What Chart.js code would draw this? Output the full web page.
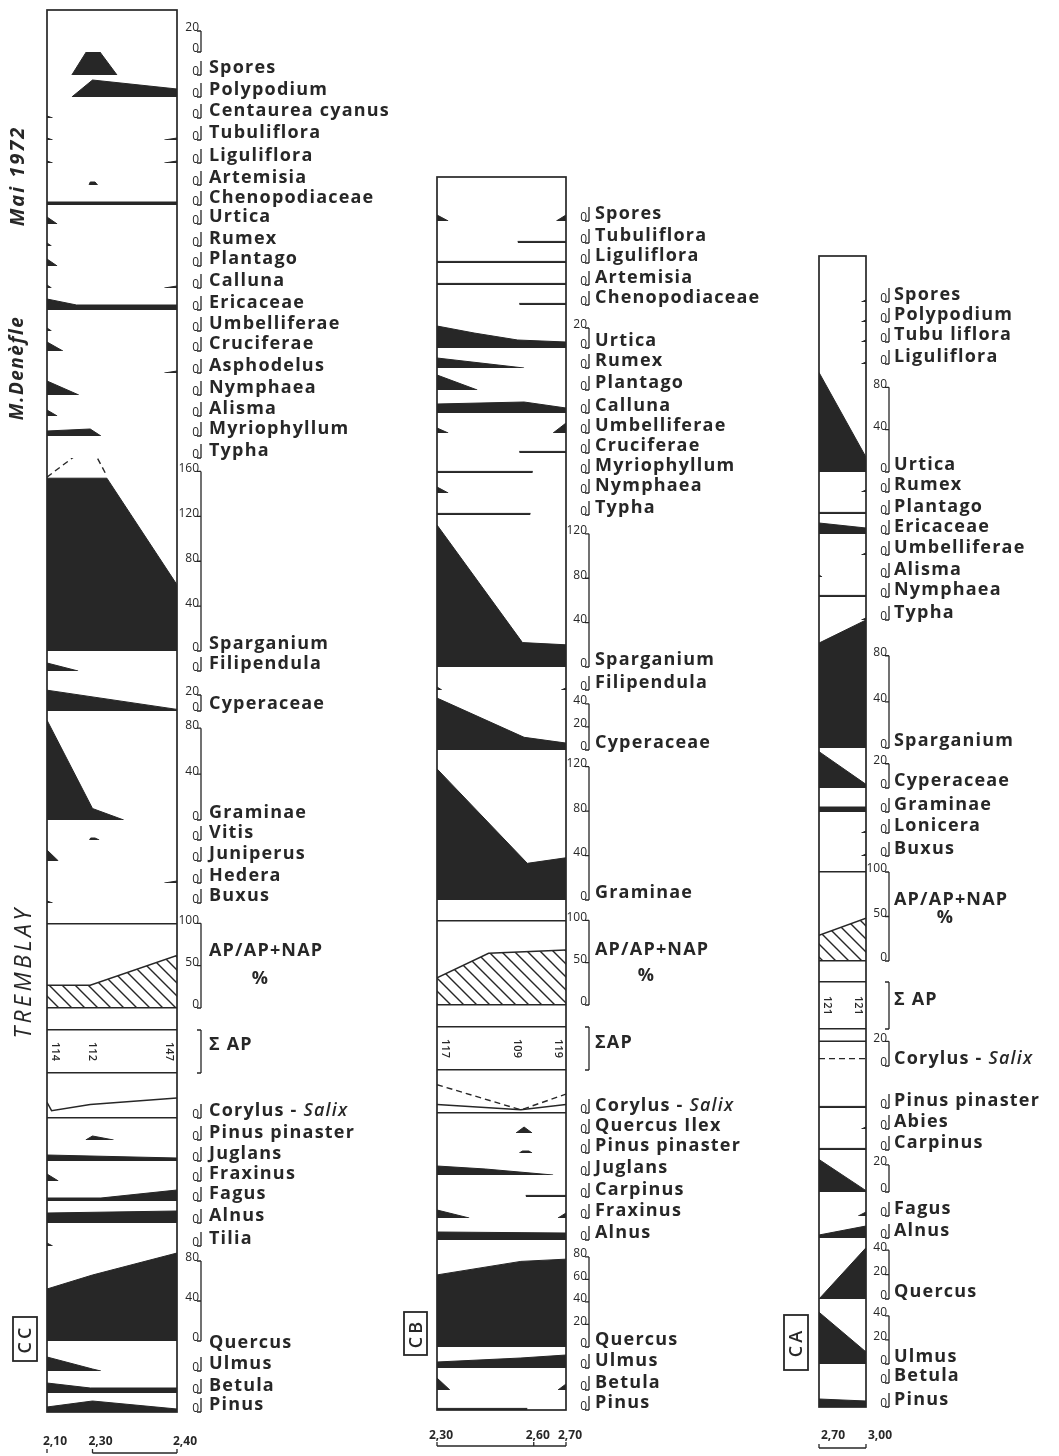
<!DOCTYPE html>
<html>
<head>
<meta charset="utf-8">
<script src="https://cdn.jsdelivr.net/npm/chart.js@4/dist/chart.umd.min.js"></script>
<style>
  html, body { margin: 0; background: #fff; }
  body { position: relative; width: 1059px; height: 1456px; overflow: hidden; }
  canvas { position: absolute; top: 0; }
</style>
</head>
<body>
<canvas id="ccChart" width="400" height="1456" style="left:0px"></canvas>
<canvas id="cbChart" width="400" height="1456" style="left:395px"></canvas>
<canvas id="caChart" width="287" height="1456" style="left:772px"></canvas>
<script>
const INK = '#272727';
const FONT = '"Open Sans", "DejaVu Sans", sans-serif';

// ---------- Profil CC (Tremblay) ----------
const ccDepthTicks = [2.10, 2.30, 2.40];
const ccTaxa = ['', 'Spores', 'Polypodium', 'Centaurea cyanus', 'Tubuliflora', 'Liguliflora', 'Artemisia',
  'Chenopodiaceae', 'Urtica', 'Rumex', 'Plantago', 'Calluna', 'Ericaceae', 'Umbelliferae', 'Cruciferae',
  'Asphodelus', 'Nymphaea', 'Alisma', 'Myriophyllum', 'Typha', 'Sparganium', 'Filipendula', 'Cyperaceae',
  'Graminae', 'Vitis', 'Juniperus', 'Hedera', 'Buxus', 'AP/AP+NAP', 'Σ AP', 'Corylus-Salix', 'Pinus pinaster',
  'Juglans', 'Fraxinus', 'Fagus', 'Alnus', 'Tilia', 'Quercus', 'Ulmus', 'Betula', 'Pinus'];
// valeurs en % : [profondeur, valeur]
const ccValues = [
  null,
  [[2.209, 0], [2.30, 33], [2.329, 0]],
  [[2.209, 0], [2.30, 17], [2.40, 8]],
  [[2.10, 2], [2.125, 0]],
  [[2.10, 2], [2.125, 0], [2.385, 0], [2.40, 2]],
  [[2.10, 2], [2.125, 0], [2.385, 0], [2.40, 2]],
  [[2.285, 0], [2.29, 3], [2.303, 3], [2.306, 0]],
  [[2.10, 3], [2.40, 3]],
  [[2.10, 7], [2.145, 0]],
  [[2.10, 3], [2.12, 0]],
  [[2.10, 7], [2.145, 0]],
  [[2.10, 3], [2.12, 0], [2.385, 0], [2.40, 2]],
  [[2.10, 11], [2.23, 5], [2.40, 5]],
  [[2.10, 3], [2.12, 0]],
  [[2.10, 9], [2.17, 0]],
  [[2.385, 0], [2.40, 2]],
  [[2.10, 14], [2.24, 0]],
  [[2.10, 6], [2.145, 0]],
  [[2.10, 5], [2.29, 7], [2.31, 0]],
  null,
  [[2.10, 154], [2.317, 154], [2.40, 59]],
  [[2.10, 8], [2.237, 0]],
  [[2.10, 26], [2.40, 2]],
  [[2.10, 87], [2.30, 10], [2.337, 0]],
  [[2.287, 0], [2.292, 2], [2.303, 2], [2.308, 0]],
  [[2.10, 11], [2.15, 0]],
  [[2.385, 0], [2.40, 2]],
  [[2.10, 2], [2.125, 0]],
  [[2.10, 27], [2.29, 27], [2.40, 62]],
  null,
  [[2.10, 15], [2.12, 7], [2.29, 13], [2.40, 19]],
  [[2.27, 0], [2.30, 4], [2.325, 0]],
  [[2.10, 6], [2.40, 3]],
  [[2.10, 7], [2.15, 0]],
  [[2.10, 3], [2.31, 3], [2.40, 11]],
  [[2.10, 10], [2.40, 12]],
  [[2.10, 3], [2.125, 0]],
  [[2.10, 52], [2.30, 66], [2.40, 88]],
  [[2.10, 14], [2.30, 2], [2.31, 0]],
  [[2.10, 10], [2.29, 5], [2.40, 5]],
  [[2.10, 5], [2.30, 11], [2.40, 3]]
];
const ccDashed = { 'Sparganium': [[2.10, 155], [2.29, 184], [2.317, 156]] };
const ccScaleTicks = { '': [0, 20], 'Sparganium': [0, 40, 80, 120, 160], 'Cyperaceae': [0, 20],
  'Graminae': [0, 40, 80], 'AP/AP+NAP': [0, 50, 100], 'Σ AP': [], 'Quercus': [0, 40, 80] };
const ccSumAP = [114, 112, 147];
const ccSumAPDepth = [2.10, 2.30, 2.40];

// ---------- Profil CB ----------
const cbDepthTicks = [2.30, 2.60, 2.70];
const cbTaxa = ['Spores', 'Tubuliflora', 'Liguliflora', 'Artemisia', 'Chenopodiaceae', 'Urtica', 'Rumex',
  'Plantago', 'Calluna', 'Umbelliferae', 'Cruciferae', 'Myriophyllum', 'Nymphaea', 'Typha', 'Sparganium',
  'Filipendula', 'Cyperaceae', 'Graminae', 'AP/AP+NAP', 'ΣAP', 'Corylus-Salix', 'Quercus Ilex',
  'Pinus pinaster', 'Juglans', 'Carpinus', 'Fraxinus', 'Alnus', 'Quercus', 'Ulmus', 'Betula', 'Pinus'];
const cbValues = [
  [[2.30, 6], [2.335, 0], [2.67, 0], [2.70, 6]],
  [[2.55, 1.6], [2.70, 1.6]],
  [[2.30, 1.6], [2.70, 1.6]],
  [[2.30, 1.6], [2.70, 1.6]],
  [[2.555, 1.6], [2.70, 1.6]],
  [[2.30, 22], [2.415, 15], [2.55, 8], [2.70, 6]],
  [[2.30, 10], [2.57, 0]],
  [[2.30, 15], [2.425, 0]],
  [[2.30, 9], [2.57, 11], [2.70, 5]],
  [[2.30, 5], [2.335, 0], [2.66, 0], [2.70, 10]],
  [[2.555, 1.6], [2.70, 1.6]],
  [[2.30, 1.6], [2.597, 1.6]],
  [[2.30, 6], [2.335, 0]],
  [[2.30, 1.6], [2.59, 1.6]],
  [[2.30, 128], [2.565, 22], [2.70, 20]],
  [[2.30, 3], [2.315, 0], [2.685, 0], [2.70, 2]],
  [[2.30, 45], [2.57, 11], [2.70, 6]],
  [[2.30, 118], [2.58, 33], [2.70, 38]],
  [[2.30, 32], [2.46, 61], [2.70, 65]],
  null,
  [[2.30, 8], [2.56, 3], [2.70, 8]],
  [[2.545, 0], [2.57, 6], [2.595, 0]],
  [[2.555, 0], [2.565, 2], [2.585, 2], [2.595, 0]],
  [[2.30, 9], [2.45, 6], [2.66, 0]],
  [[2.575, 1.6], [2.70, 1.6]],
  [[2.30, 8], [2.40, 0], [2.675, 0], [2.70, 5]],
  [[2.30, 8], [2.70, 7]],
  [[2.30, 64], [2.56, 76], [2.70, 78]],
  [[2.30, 6], [2.56, 10], [2.70, 13]],
  [[2.30, 12], [2.34, 0], [2.675, 0], [2.70, 6]],
  [[2.30, 1.6], [2.58, 1.6]]
];
const cbDashed = { 'Corylus-Salix': [[2.30, 27], [2.56, 3], [2.70, 18]] };
const cbScaleTicks = { 'Urtica': [0, 20], 'Sparganium': [0, 40, 80, 120], 'Cyperaceae': [0, 20, 40],
  'Graminae': [0, 40, 80, 120], 'AP/AP+NAP': [0, 50, 100], 'ΣAP': [], 'Quercus': [0, 20, 40, 60, 80] };
const cbSumAP = [117, 109, 119];
const cbSumAPDepth = [2.30, 2.55, 2.70];

// ---------- Profil CA ----------
const caDepthTicks = [2.70, 3.00];
const caTaxa = ['Spores', 'Polypodium', 'Tubu liflora', 'Liguliflora', 'Urtica', 'Rumex', 'Plantago',
  'Ericaceae', 'Umbelliferae', 'Alisma', 'Nymphaea', 'Typha', 'Sparganium', 'Cyperaceae', 'Graminae',
  'Lonicera', 'Buxus', 'AP/AP+NAP', 'Σ AP', 'Corylus-Salix', 'Pinus pinaster', 'Abies', 'Carpinus', '',
  'Fagus', 'Alnus', 'Quercus', 'Ulmus', 'Betula', 'Pinus'];
const caValues = [
  [[2.97, 0], [3.00, 2]],
  [[2.97, 0], [3.00, 2]],
  [[2.97, 0], [3.00, 2]],
  [[2.97, 0], [3.00, 2]],
  [[2.70, 94], [3.00, 14]],
  [[2.97, 0], [3.00, 2]],
  [[2.70, 1.6], [3.00, 1.6]],
  [[2.70, 11], [3.00, 6]],
  [[2.97, 0], [3.00, 2]],
  [[2.70, 2], [2.72, 0]],
  [[2.70, 1.6], [3.00, 1.6]],
  [[2.97, 0], [3.00, 2]],
  [[2.70, 91], [3.00, 111]],
  [[2.70, 30], [3.00, 3]],
  [[2.70, 5], [3.00, 5]],
  [[2.97, 0], [3.00, 2]],
  [[2.97, 0], [3.00, 2]],
  [[2.70, 29], [3.00, 48]],
  null,
  [[2.70, 20], [3.00, 20]],
  [[2.70, 1.6], [3.00, 1.6]],
  [[2.97, 0], [3.00, 2]],
  [[2.70, 1.6], [3.00, 1.6]],
  [[2.70, 24], [3.00, 1]],
  [[2.95, 0], [3.00, 4]],
  [[2.70, 3], [3.00, 12]],
  [[2.70, 0], [3.00, 42]],
  [[2.70, 43], [3.00, 10]],
  null,
  [[2.70, 8], [3.00, 6]]
];
const caDashed = { 'Corylus-Salix': [[2.70, 6], [3.00, 6]] };
const caScaleTicks = { 'Urtica': [0, 40, 80], 'Sparganium': [0, 40, 80], 'Cyperaceae': [0, 20],
  'AP/AP+NAP': [0, 50, 100], 'Σ AP': [], 'Corylus-Salix': [0, 20], '': [0, 20],
  'Quercus': [0, 20, 40], 'Ulmus': [0, 20, 40] };
const caSumAP = [121, 121];
const caSumAPDepth = [2.70, 3.00];

// echelle de profondeur (pas forcément linéaire sur le dessin original)
class DepthScale extends Chart.LinearScale {
  getPixelForValue(value) {
    const b = this.options.breaks;
    let i = 0;
    while (i < b.length - 2 && value > b[i + 1][0]) i++;
    const f = b[i][1] + (value - b[i][0]) / (b[i + 1][0] - b[i][0]) * (b[i + 1][1] - b[i][1]);
    return this.left + f * this.width;
  }
}
DepthScale.id = 'depth';
DepthScale.defaults = Chart.LinearScale.defaults;
Chart.register(DepthScale);

function hatchPattern() {
  const c = document.createElement('canvas');
  c.width = 13; c.height = 13;
  const g = c.getContext('2d');
  g.strokeStyle = INK; g.lineWidth = 1.4;
  g.beginPath();
  g.moveTo(-2, -2); g.lineTo(15, 15);
  g.moveTo(-2, 11); g.lineTo(2, 15);
  g.moveTo(11, -2); g.lineTo(15, 2);
  g.stroke();
  return g.createPattern(c, 'repeat');
}
const HATCH = hatchPattern();

function isSumAP(name) { return name.replace(' ', '') === 'ΣAP'; }

function makeDecor(col) {
  return {
    id: 'decor',
    afterDraw(chart) {
      const { ctx, chartArea: a, scales } = chart;
      const xs = scales.x;
      ctx.save();
      ctx.strokeStyle = INK;
      ctx.fillStyle = INK;
      ctx.lineWidth = 1.7;
      ctx.strokeRect(a.left, a.top, a.width, a.height);

      const bx = a.right + col.axisW + 2;
      const nx = bx + col.nameGap;
      col.taxa.forEach((name, i) => {
        const s = scales['r' + i];
        const labels = col.scaleTicks[name] || [0];
        const marks = labels.concat(col.rules[name] || []);
        const top = Math.max(0, ...marks);
        const y0 = s.getPixelForValue(0);
        const y1 = top > 0 ? s.getPixelForValue(top) : y0 - 14;
        // petite échelle en crochet
        ctx.lineWidth = 1.3;
        ctx.beginPath();
        ctx.moveTo(bx, y0);
        ctx.lineTo(bx, y1);
        marks.forEach(v => {
          const y = s.getPixelForValue(v);
          ctx.moveTo(bx - 4, y);
          ctx.lineTo(bx, y);
        });
        ctx.stroke();
        if (!name) return;
        const yName = col.nameAt[name] !== undefined ? s.getPixelForValue(col.nameAt[name]) : y0 - 7;
        ctx.font = '700 18px ' + FONT;
        ctx.letterSpacing = '1.2px';
        ctx.textBaseline = 'middle';
        ctx.textAlign = 'left';
        if (name === 'Corylus-Salix') {
          ctx.fillText('Corylus - ', nx, yName);
          const w = ctx.measureText('Corylus - ').width;
          ctx.font = 'italic 600 18px ' + FONT;
          ctx.fillText('Salix', nx + w, yName);
        } else if (name === 'AP/AP+NAP') {
          ctx.fillText(name, nx, yName);
          const w = ctx.measureText(name).width;
          ctx.textAlign = 'center';
          ctx.fillText('%', nx + w * 0.45, yName + col.pctGap);
        } else {
          ctx.fillText(name, nx, yName);
        }
      });

      // nombres Σ AP
      const si = col.taxa.findIndex(isSumAP);
      const sa = scales['r' + si];
      const yMid = sa.getPixelForValue(col.rules[col.taxa[si]][1] / 2);
      ctx.font = '600 11px ' + FONT;
      ctx.letterSpacing = '0px';
      col.sumAP.forEach((n, k) => {
        const x = Math.min(Math.max(xs.getPixelForValue(col.sumAPDepth[k]), a.left + 8), a.right - 8);
        ctx.save();
        ctx.translate(x, yMid);
        ctx.rotate(Math.PI / 2);
        ctx.textAlign = 'center';
        ctx.textBaseline = 'middle';
        ctx.fillText(String(n), 0, 0);
        ctx.restore();
      });

      // barre sous l'échelle de profondeur
      const yb = a.bottom + col.barGap;
      ctx.lineWidth = 1.3;
      ctx.beginPath();
      ctx.moveTo(xs.getPixelForValue(col.bar[0]), yb);
      ctx.lineTo(xs.getPixelForValue(col.bar[1]), yb);
      col.depthTicks.forEach(d => {
        const x = xs.getPixelForValue(d);
        ctx.moveTo(x, yb);
        ctx.lineTo(x, yb - 4);
      });
      ctx.stroke();

      // étiquette encadrée du profil
      const b = col.box;
      ctx.lineWidth = 1.8;
      ctx.strokeRect(b.x, b.y, b.w, b.h);
      ctx.save();
      ctx.translate(b.x + b.w / 2, b.y + b.h / 2);
      ctx.rotate(-Math.PI / 2);
      ctx.font = '600 18px ' + FONT;
      ctx.letterSpacing = '3px';
      ctx.textAlign = 'center';
      ctx.textBaseline = 'middle';
      ctx.fillText(b.text, 0, 1);
      ctx.restore();

      // textes verticaux
      (col.side || []).forEach(t => {
        ctx.save();
        ctx.translate(t.x, t.y);
        ctx.rotate(-Math.PI / 2);
        ctx.font = t.font;
        ctx.letterSpacing = t.spacing;
        ctx.textAlign = 'center';
        ctx.textBaseline = 'middle';
        ctx.fillText(t.text, 0, 0);
        ctx.restore();
      });
      ctx.restore();
    }
  };
}

function makeDiagram(id, col) {
  const scales = {
    x: {
      type: 'depth', position: 'bottom', breaks: col.breaks,
      min: col.breaks[0][0], max: col.breaks[col.breaks.length - 1][0],
      grid: { display: false, drawTicks: false }, border: { display: false },
      ticks: {
        font: { family: FONT, size: 12, weight: '700' }, color: INK, padding: col.depthPad,
        labelOffset: col.depthLabelOffset, maxRotation: 0, autoSkip: false,
        callback: v => v.toFixed(2).replace('.', ',')
      },
      afterBuildTicks: s => { s.ticks = col.depthTicks.map(v => ({ value: v })); },
      afterFit: s => { s.height = 44; }
    }
  };
  col.taxa.forEach((name, i) => {
    const labels = col.scaleTicks[name] || [0];
    const rules = col.rules[name] || [];
    scales['r' + i] = {
      type: 'linear', position: 'right', stack: 'rows', stackWeight: col.rowH[i],
      min: 0, max: col.rowMax[name] !== undefined ? col.rowMax[name] : col.rowH[i],
      border: { display: false },
      grid: {
        drawTicks: false, lineWidth: 1.4,
        color: c => (c.tick && rules.includes(c.tick.value)) ? INK : 'rgba(0,0,0,0)'
      },
      ticks: {
        autoSkip: false, crossAlign: 'far', padding: 0, labelOffset: -3, color: INK,
        font: { family: FONT, size: 12, weight: '500' },
        callback: v => labels.includes(v) ? String(v) : ''
      },
      afterBuildTicks: s => { s.ticks = [...new Set(labels.concat(rules))].map(v => ({ value: v })); },
      afterFit: s => { s.width = col.axisW; }
    };
  });

  const datasets = [];
  col.taxa.forEach((name, i) => {
    const pts = col.values[i];
    if (!pts) return;
    const hatch = name === 'AP/AP+NAP';
    const line = name === 'Corylus-Salix';
    datasets.push({
      label: name || 'n.d.',
      data: pts.map(([x, y]) => ({ x, y })),
      xAxisID: 'x', yAxisID: 'r' + i,
      fill: line ? false : 'origin',
      backgroundColor: hatch ? HATCH : INK,
      borderColor: INK,
      borderWidth: (line || hatch) ? 1.5 : 1,
      // pas de trait le long de la ligne de base quand la valeur est nulle
      segment: { borderColor: c => (c.p0.parsed.y === 0 && c.p1.parsed.y === 0) ? 'rgba(0,0,0,0)' : INK },
      pointRadius: 0, tension: 0
    });
  });
  Object.entries(col.dashed).forEach(([name, pts]) => {
    datasets.push({
      label: name + ' (tirets)',
      data: pts.map(([x, y]) => ({ x, y })),
      xAxisID: 'x', yAxisID: 'r' + col.taxa.indexOf(name),
      fill: false, borderColor: INK, borderWidth: 1.4, borderDash: [6, 4],
      pointRadius: 0, tension: 0
    });
  });

  new Chart(document.getElementById(id), {
    type: 'line',
    data: { datasets },
    options: {
      responsive: false,
      animation: false,
      events: [],
      layout: { padding: col.pad },
      plugins: { legend: { display: false }, tooltip: { enabled: false } },
      scales
    },
    plugins: [makeDecor(col)]
  });
}

makeDiagram('ccChart', {
  taxa: ccTaxa, values: ccValues, dashed: ccDashed, scaleTicks: ccScaleTicks,
  sumAP: ccSumAP, sumAPDepth: ccSumAPDepth, depthTicks: ccDepthTicks,
  breaks: [[2.10, 0], [2.30, 0.35], [2.40, 1]], bar: [2.30, 2.40],
  rowH: [42, 23, 22, 21, 22, 23, 22, 20, 19, 22, 20, 22, 22, 21, 20, 22, 22, 21, 20, 22, 193, 20, 40, 109,
    20, 21, 22, 20, 105, 65, 45, 22, 21, 20, 20, 22, 23, 95, 30, 22, 19],
  rowMax: { '': 40, 'Sparganium': 172, 'Cyperaceae': 50, 'Graminae': 95, 'AP/AP+NAP': 124, 'Corylus-Salix': 43, 'Quercus': 95 },
  rules: { 'AP/AP+NAP': [0, 100], 'Σ AP': [0, 43], 'Corylus-Salix': [0] },
  nameAt: { 'AP/AP+NAP': 68, 'Σ AP': 28, 'Quercus': -2 }, pctGap: 28,
  pad: { left: 47, top: 10, right: 201, bottom: 0 }, axisW: 22, nameGap: 8,
  depthPad: 22, depthLabelOffset: 8, barGap: 41,
  box: { x: 13, y: 1317, w: 24, h: 44, text: 'CC' },
  side: [
    { text: 'Mai 1972', x: 18, y: 176, font: 'italic 700 20px ' + FONT, spacing: '2px' },
    { text: 'M.Denèfle', x: 18, y: 368, font: 'italic 700 19px ' + FONT, spacing: '1.5px' },
    { text: 'TREMBLAY', x: 24, y: 972, font: 'italic 400 23px ' + FONT, spacing: '3.5px' }
  ]
});

makeDiagram('cbChart', {
  taxa: cbTaxa, values: cbValues, dashed: cbDashed, scaleTicks: cbScaleTicks,
  sumAP: cbSumAP, sumAPDepth: cbSumAPDepth, depthTicks: cbDepthTicks,
  breaks: [[2.30, 0], [2.70, 1]], bar: [2.30, 2.70],
  rowH: [44, 22, 20, 22, 20, 43, 20, 22, 23, 20, 20, 20, 20, 22, 152, 23, 60, 150, 105, 65, 43, 20, 20, 22,
    22, 21, 22, 107, 21, 22, 20],
  rowMax: { 'Urtica': 43, 'Sparganium': 137, 'Cyperaceae': 52, 'Graminae': 135, 'AP/AP+NAP': 124, 'Corylus-Salix': 41, 'Quercus': 95 },
  rules: { 'AP/AP+NAP': [0, 100], 'ΣAP': [0, 43], 'Corylus-Salix': [0] },
  nameAt: { 'AP/AP+NAP': 65, 'ΣAP': 27 }, pctGap: 26,
  pad: { left: 42, top: 177, right: 208, bottom: 2 }, axisW: 21, nameGap: 6,
  depthPad: 18, depthLabelOffset: 4, barGap: 36,
  box: { x: 9, y: 1312, w: 23, h: 43, text: 'CB' }
});

makeDiagram('caChart', {
  taxa: caTaxa, values: caValues, dashed: caDashed, scaleTicks: caScaleTicks,
  sumAP: caSumAP, sumAPDepth: caSumAPDepth, depthTicks: caDepthTicks,
  breaks: [[2.70, 0], [3.00, 1]], bar: [2.70, 3.00],
  rowH: [46, 20, 20, 22, 108, 20, 22, 20, 21, 22, 20, 23, 128, 40, 24, 21, 23, 105, 68, 37, 42, 21, 21, 42,
    24, 22, 61, 65, 19, 24],
  rowMax: { 'Urtica': 102, 'Sparganium': 111, 'Cyperaceae': 33, 'AP/AP+NAP': 118, 'Corylus-Salix': 30, '': 31, 'Quercus': 50, 'Ulmus': 54 },
  rules: { 'AP/AP+NAP': [0, 100], 'Σ AP': [0, 47] },
  nameAt: { 'AP/AP+NAP': 69, 'Σ AP': 29 }, pctGap: 18,
  pad: { left: 47, top: 256, right: 172, bottom: 5 }, axisW: 21, nameGap: 5,
  depthPad: 21, depthLabelOffset: 14, barGap: 41,
  box: { x: 12, y: 1315, w: 24, h: 55, text: 'CA' }
});
</script>
</body>
</html>
